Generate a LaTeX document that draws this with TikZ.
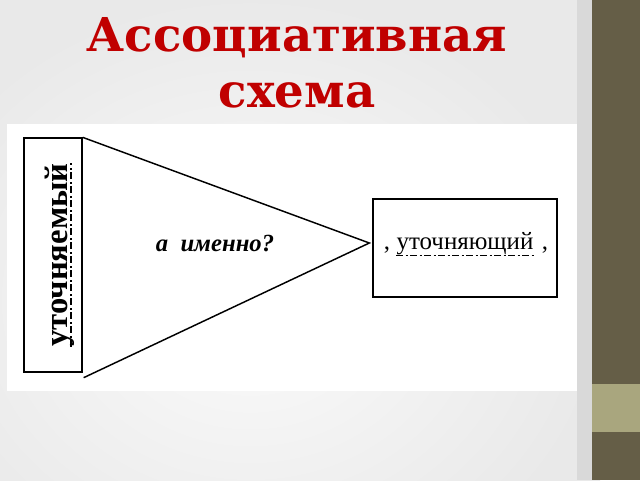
\documentclass[tikz,border=0pt]{standalone}
\usepackage{fontspec}
\setmainfont{Liberation Serif}
\newfontfamily\titlefont{DejaVu Serif}
\usepackage{tikz}
\usetikzlibrary{positioning, calc}
\definecolor{titlered}{HTML}{C00000}
\definecolor{barolive}{HTML}{655E47}
\definecolor{bandolive}{HTML}{A9A67E}
\definecolor{stripgray}{HTML}{D9D9D9}

\begin{document}
\begin{tikzpicture}[
  x=0.75pt, y=-0.75pt,
  frame/.style={draw, line width=1pt, inner sep=0pt},
  line/.style={line width=1.1pt},
  underl/.style={line width=0.9pt, dash pattern=on 5pt off 2pt on 1.5pt off 2pt},
  node distance=0pt
]
  % Background
  \useasboundingbox (0,0) rectangle (640,480);
  \shade[inner color=gray!3, outer color=gray!17] (-100,0) rectangle (600,600);
  \fill[stripgray] (577,0) rectangle (592,480);
  \fill[barolive] (592,0) rectangle (640,480);
  \fill[bandolive] (592,384) rectangle (640,432);
  \fill[white] (7,124) rectangle (577,391);

  % Title
  \node[font=\titlefont\bfseries\fontsize{35}{42}\selectfont, text=titlered,
        align=center] (title) at (297,63) {Ассоциативная\\схема};

  % Nodes
  \node[frame, minimum width=43.5pt, minimum height=175.5pt] (subj) at (53,255) {};
  \node[font=\bfseries\fontsize{24.5}{24.5}\selectfont, rotate=90, inner sep=0pt]
        (subjw) at (60,255) {уточняемый};
  \node[frame, minimum width=138pt, minimum height=73.5pt] (expl) at (465,248) {};
  \node[font=\fontsize{18.7}{18.7}\selectfont, inner sep=0pt] (clar) at (465,244) {уточняющий};
  \node[font=\fontsize{18.7}{18.7}\selectfont, inner sep=0pt, left=4.5pt of clar.base west,
        anchor=base east] (lcomma) {,};
  \node[font=\fontsize{18.7}{18.7}\selectfont, inner sep=0pt, right=6pt of clar.base east,
        anchor=base west] (rcomma) {,};
  \node[font=\bfseries\itshape\fontsize{18.5}{18.5}\selectfont] (quest) at (215,244)
        {а\ \ именно?};
  \coordinate (apex) at ($(expl.west)+(-3,-5)$);
  \coordinate (low) at ($(subj.south east)+(1,5)$);

  % Lines
  \draw[line] (subj.north east) -- (apex) -- (low);
  \draw[underl] ([yshift=-4pt]clar.base west) -- ([yshift=-4pt]clar.base east);
  \draw[underl] ([xshift=2.5pt]subjw.base west) -- ([xshift=2.5pt]subjw.base east);
\end{tikzpicture}
\end{document}
